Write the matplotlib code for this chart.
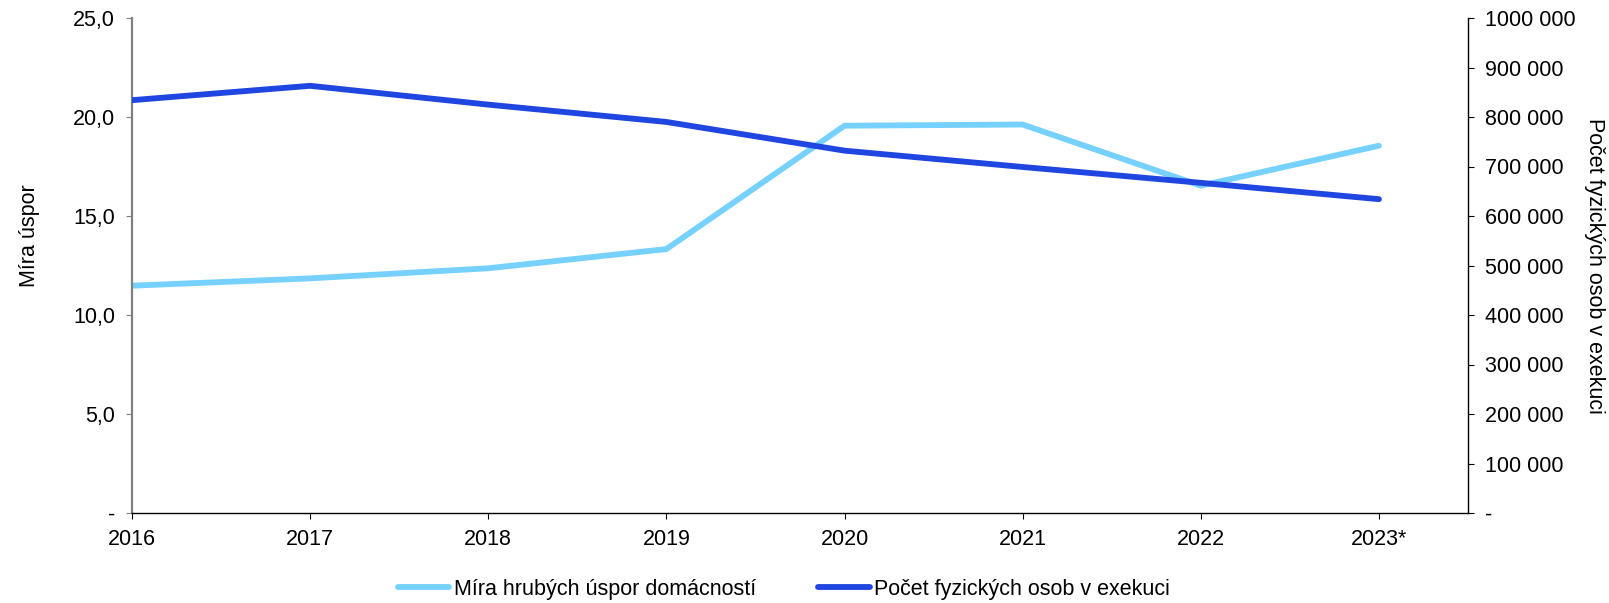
import matplotlib
matplotlib.use("Agg")
import matplotlib.pyplot as plt
from matplotlib.ticker import FuncFormatter, MultipleLocator

plt.rcParams['font.family'] = ['Liberation Sans', 'DejaVu Sans']
plt.rcParams['font.size'] = 15.5

years = ["2016", "2017", "2018", "2019", "2020", "2021", "2022", "2023*"]
savings_rate = [11.48, 11.85, 12.36, 13.33, 19.56, 19.62, 16.53, 18.55]
persons_in_execution = [834000, 863000, 825000, 790000, 732000, 699000, 667000, 634000]

label_savings = "Míra hrubých úspor domácností"
label_persons = "Počet fyzických osob v exekuci"

light = "#76D1FF"
dark = "#1F46E0"

W, H = 1609, 603
fig = plt.figure(figsize=(W / 100, H / 100), dpi=100)
ax = fig.add_axes([132 / W, 1 - 513 / H, (1468 - 132) / W, (513 - 18) / H])
ax2 = ax.twinx()

x = list(range(len(years)))
l1, = ax.plot(x, savings_rate, color=light, lw=4.2, solid_capstyle='round',
              solid_joinstyle='round', label=label_savings)
l2, = ax2.plot(x, persons_in_execution, color=dark, lw=4.2, solid_capstyle='round',
               solid_joinstyle='round', label=label_persons)

ax.set_xlim(0, len(years) - 0.5)
ax.set_xticks(x)
ax.set_xticklabels(years)
ax.set_ylim(0, 25)
ax.yaxis.set_major_locator(MultipleLocator(5))
ax.yaxis.set_major_formatter(FuncFormatter(lambda v, p: "-" if abs(v) < 1e-9 else f"{v:.1f}".replace(".", ",")))
ax2.set_ylim(0, 1000000)
ax2.yaxis.set_major_locator(MultipleLocator(100000))
ax2.yaxis.set_major_formatter(FuncFormatter(lambda v, p: "-" if abs(v) < 1e-9 else f"{int(round(v)) // 1000} 000"))

for a in (ax, ax2):
    a.spines['top'].set_visible(False)
    a.tick_params(direction='out', length=4.3, width=0.8, pad=8, colors='black')
ax.tick_params(axis='x', pad=7)
ax.spines['left'].set_color('#808080')
ax.spines['left'].set_linewidth(1.6)
ax.spines['right'].set_visible(False)
ax2.spines['left'].set_visible(False)
ax2.spines['bottom'].set_visible(False)
ax.spines['bottom'].set_linewidth(1.0)
ax2.spines['right'].set_linewidth(1.0)
ax.tick_params(axis='y', color='#808080')

fig.text(29 / W, 1 - 236 / H, "Míra úspor", rotation=90, ha='center', va='center')
fig.text(1594 / W, 1 - 266 / H, "Počet fyzických osob v exekuci", rotation=270, ha='center', va='center')

fig.legend([l1, l2], [label_savings, label_persons], loc='center',
           bbox_to_anchor=(784 / W, 1 - 589 / H), ncol=2, frameon=False,
           handlelength=2.4, handletextpad=0.2, columnspacing=2.9)

fig.savefig("out.png", dpi=100)
